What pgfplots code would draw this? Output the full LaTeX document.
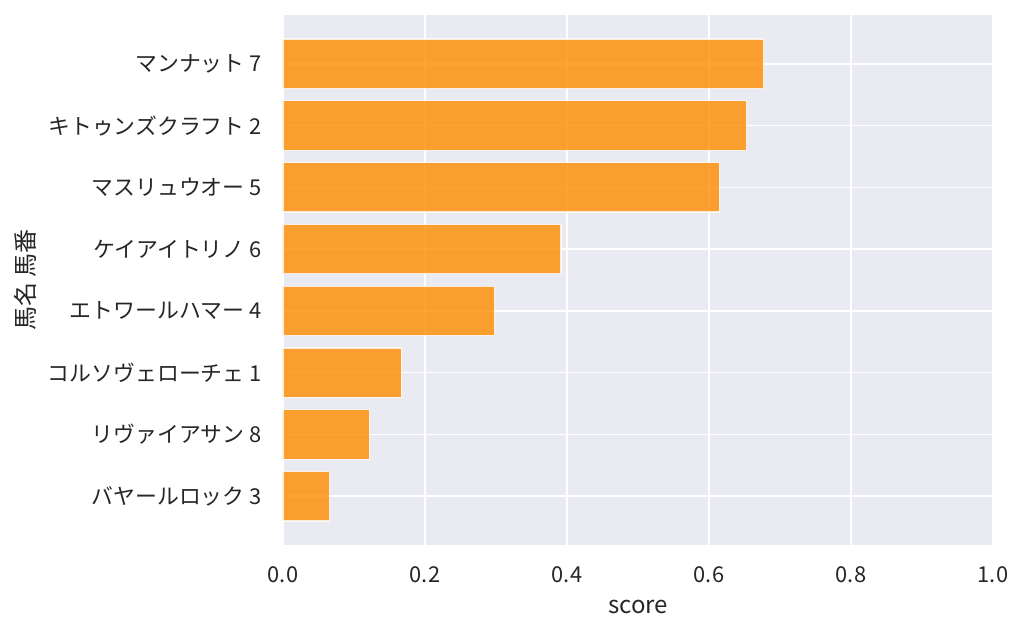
\documentclass[border=0pt]{standalone}
\usepackage{pgfplots}
\pgfplotsset{compat=1.18}
\usepackage{fontspec}
\setmainfont{Noto Sans CJK JP}
\definecolor{bgc}{HTML}{EAEAF2}
\definecolor{barc}{HTML}{FF8C00}
\definecolor{txt}{HTML}{262626}
\begin{document}
\begin{tikzpicture}
\useasboundingbox (-212.25pt,-66.75pt) rectangle (555.75pt,408.75pt);
\begin{axis}[
  at={(0pt,0pt)}, anchor=south west,
  scale only axis, width=532.5pt, height=397.5pt,
  xmin=0, xmax=1, ymin=-0.79, ymax=7.79,
  y dir=reverse,
  xtick={0,0.2,...,1.0},
  xticklabels={0.0,0.2,0.4,0.6,0.8,1.0},
  ytick={0,...,7},
  yticklabels={マンナット 7,キトゥンズクラフト 2,マスリュウオー 5,ケイアイトリノ 6,エトワールハマー 4,コルソヴェローチェ 1,リヴァイアサン 8,バヤールロック 3},
  axis background/.style={fill=bgc},
  axis line style={draw=none},
  major tick length=0pt,
  grid=major,
  major grid style={white, line width=1.2pt},
  /pgf/number format/assume math mode=true,
  tick label style={font=\fontsize{16.4pt}{19pt}\selectfont, text=txt},
  label style={font=\fontsize{18pt}{21pt}\selectfont, text=txt},
  xticklabel style={anchor=center, inner sep=0pt, yshift=-22.5pt},
  yticklabel style={anchor=east, inner sep=0pt, xshift=-15.75pt},
  xlabel={score},
  ylabel={馬名 馬番},
  xlabel style={at={(rel axis cs:0.5,0)}, anchor=center, inner sep=0pt, yshift=-46.5pt},
  ylabel style={at={(rel axis cs:0,0.5)}, anchor=center, inner sep=0pt, rotate=0, yshift=193.5pt},
  xbar, bar width=0.8,
]
\addplot[fill=barc, fill opacity=0.8, draw=white, draw opacity=0.8, line width=0.9pt]
  coordinates {(0.677,0) (0.653,1) (0.6145,2) (0.3915,3) (0.298,4) (0.1666,5) (0.1216,6) (0.0658,7)};
\end{axis}
\end{tikzpicture}
\end{document}
